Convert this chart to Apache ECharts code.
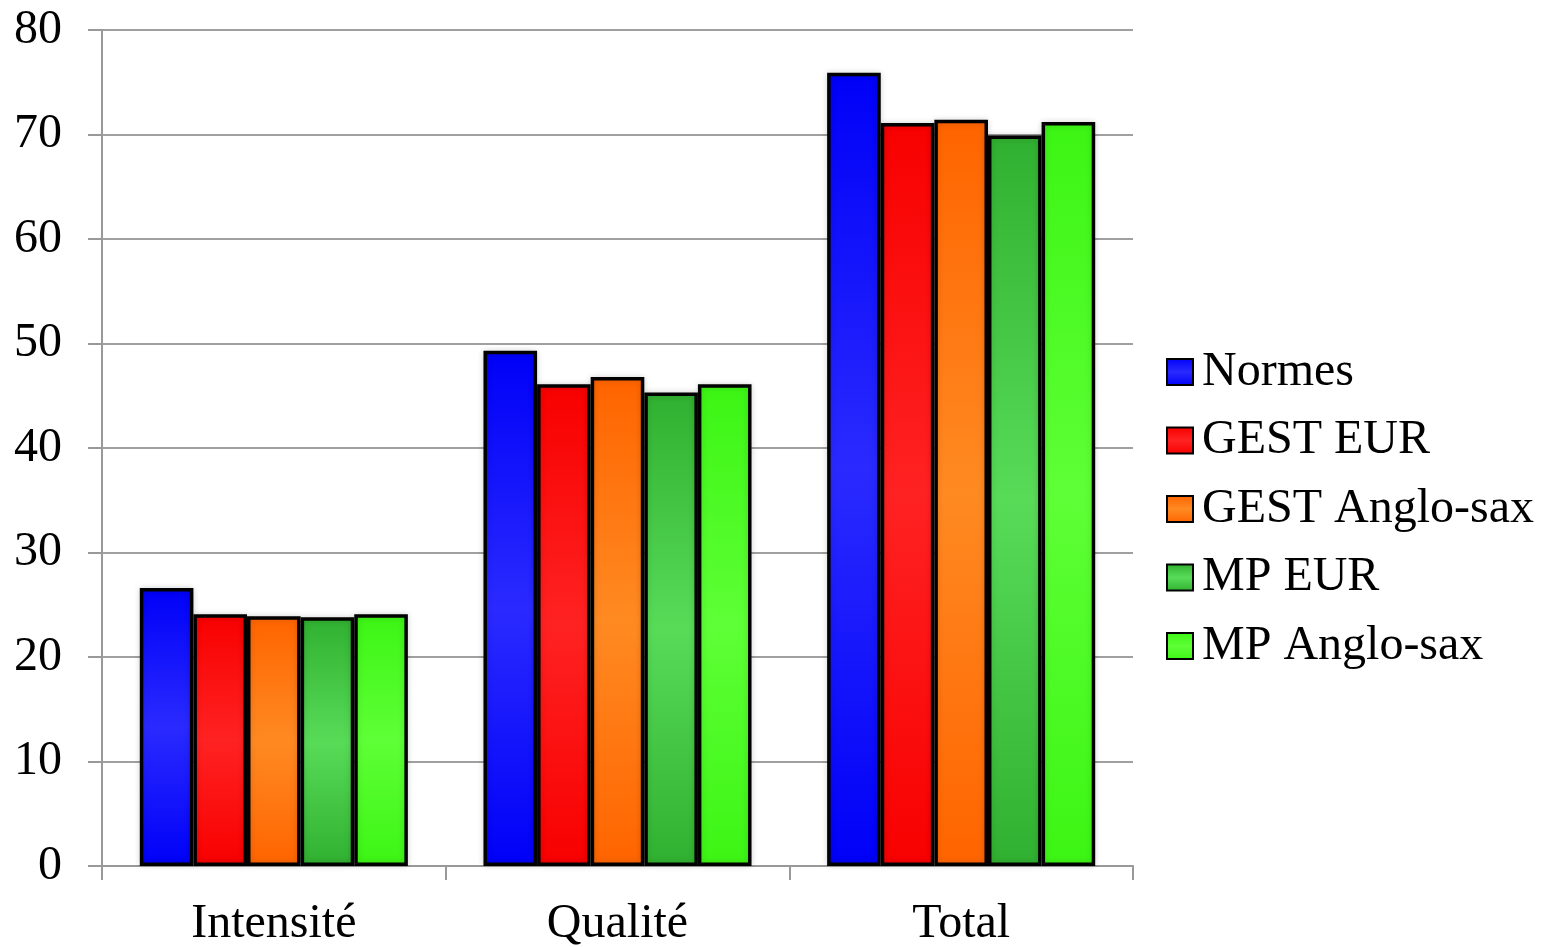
<!DOCTYPE html>
<html><head><meta charset="utf-8">
<script src="https://cdn.jsdelivr.net/npm/echarts@6/dist/echarts.min.js"></script>
<style>html,body{margin:0;padding:0;background:#fff}#c{width:1541px;height:947px}</style>
</head><body><div id="c"></div>
<script>
const categories = ['Intensité', 'Qualité', 'Total'];
const seriesNames = ['Normes', 'GEST EUR', 'GEST Anglo-sax', 'MP EUR', 'MP Anglo-sax'];
const normes = [26.6, 49.3, 75.9];
const gestEur = [24.1, 46.1, 71.1];
const gestAnglo = [23.9, 46.8, 71.4];
const mpEur = [23.8, 45.3, 69.9];
const mpAnglo = [24.1, 46.1, 71.2];
const yTicks = [0, 10, 20, 30, 40, 50, 60, 70, 80];

const values = [normes, gestEur, gestAnglo, mpEur, mpAnglo];
const colors = [
  ['#0000f8', '#2a2aff'],
  ['#f80000', '#ff2222'],
  ['#ff6400', '#ff8a22'],
  ['#30b030', '#58dc58'],
  ['#3cf514', '#5eff36']
];
function grad(c) {
  return new echarts.graphic.LinearGradient(0, 0, 0, 1, [
    {offset: 0, color: c[0]}, {offset: 0.5, color: c[1]}, {offset: 1, color: c[0]}
  ]);
}
const font = 'Liberation Serif, Times New Roman, serif';
const chart = echarts.init(document.getElementById('c'));
chart.setOption({
  animation: false,
  backgroundColor: '#fff',
  grid: {left: 102, right: 408, top: 30, bottom: 81, containLabel: false, outerBoundsMode: 'none'},
  legend: {
    orient: 'vertical', left: 1161, top: 343, icon: 'rect',
    itemWidth: 26, itemHeight: 26, itemGap: 20.5,
    textStyle: {fontFamily: font, fontSize: 48, color: '#000', lineHeight: 48, padding: [0, 0, 0, 4]},
    data: seriesNames
  },
  xAxis: {
    type: 'category', data: categories,
    axisLine: {lineStyle: {color: '#999', width: 2}},
    axisTick: {show: true, length: 14, lineStyle: {color: '#999', width: 2}},
    axisLabel: {fontFamily: font, fontSize: 48, color: '#000', margin: 34}
  },
  yAxis: {
    type: 'value', min: 0, max: 80, interval: 10,
    axisLine: {show: true, lineStyle: {color: '#999', width: 2}},
    axisTick: {show: true, length: 14, lineStyle: {color: '#999', width: 2}},
    splitLine: {lineStyle: {color: '#a0a0a0', width: 2}},
    axisLabel: {fontFamily: font, fontSize: 48, color: '#000', margin: 40,
      formatter: v => yTicks.includes(v) ? String(v) : ''}
  },
  series: seriesNames.map((n, i) => ({
    name: n, type: 'bar', data: values[i],
    barGap: '0%', barCategoryGap: '22%',
    itemStyle: {color: grad(colors[i]), borderColor: '#000', borderWidth: 3.5,
      shadowColor: 'rgba(0,0,0,0.15)', shadowBlur: 6}
  }))
});
</script></body></html>
